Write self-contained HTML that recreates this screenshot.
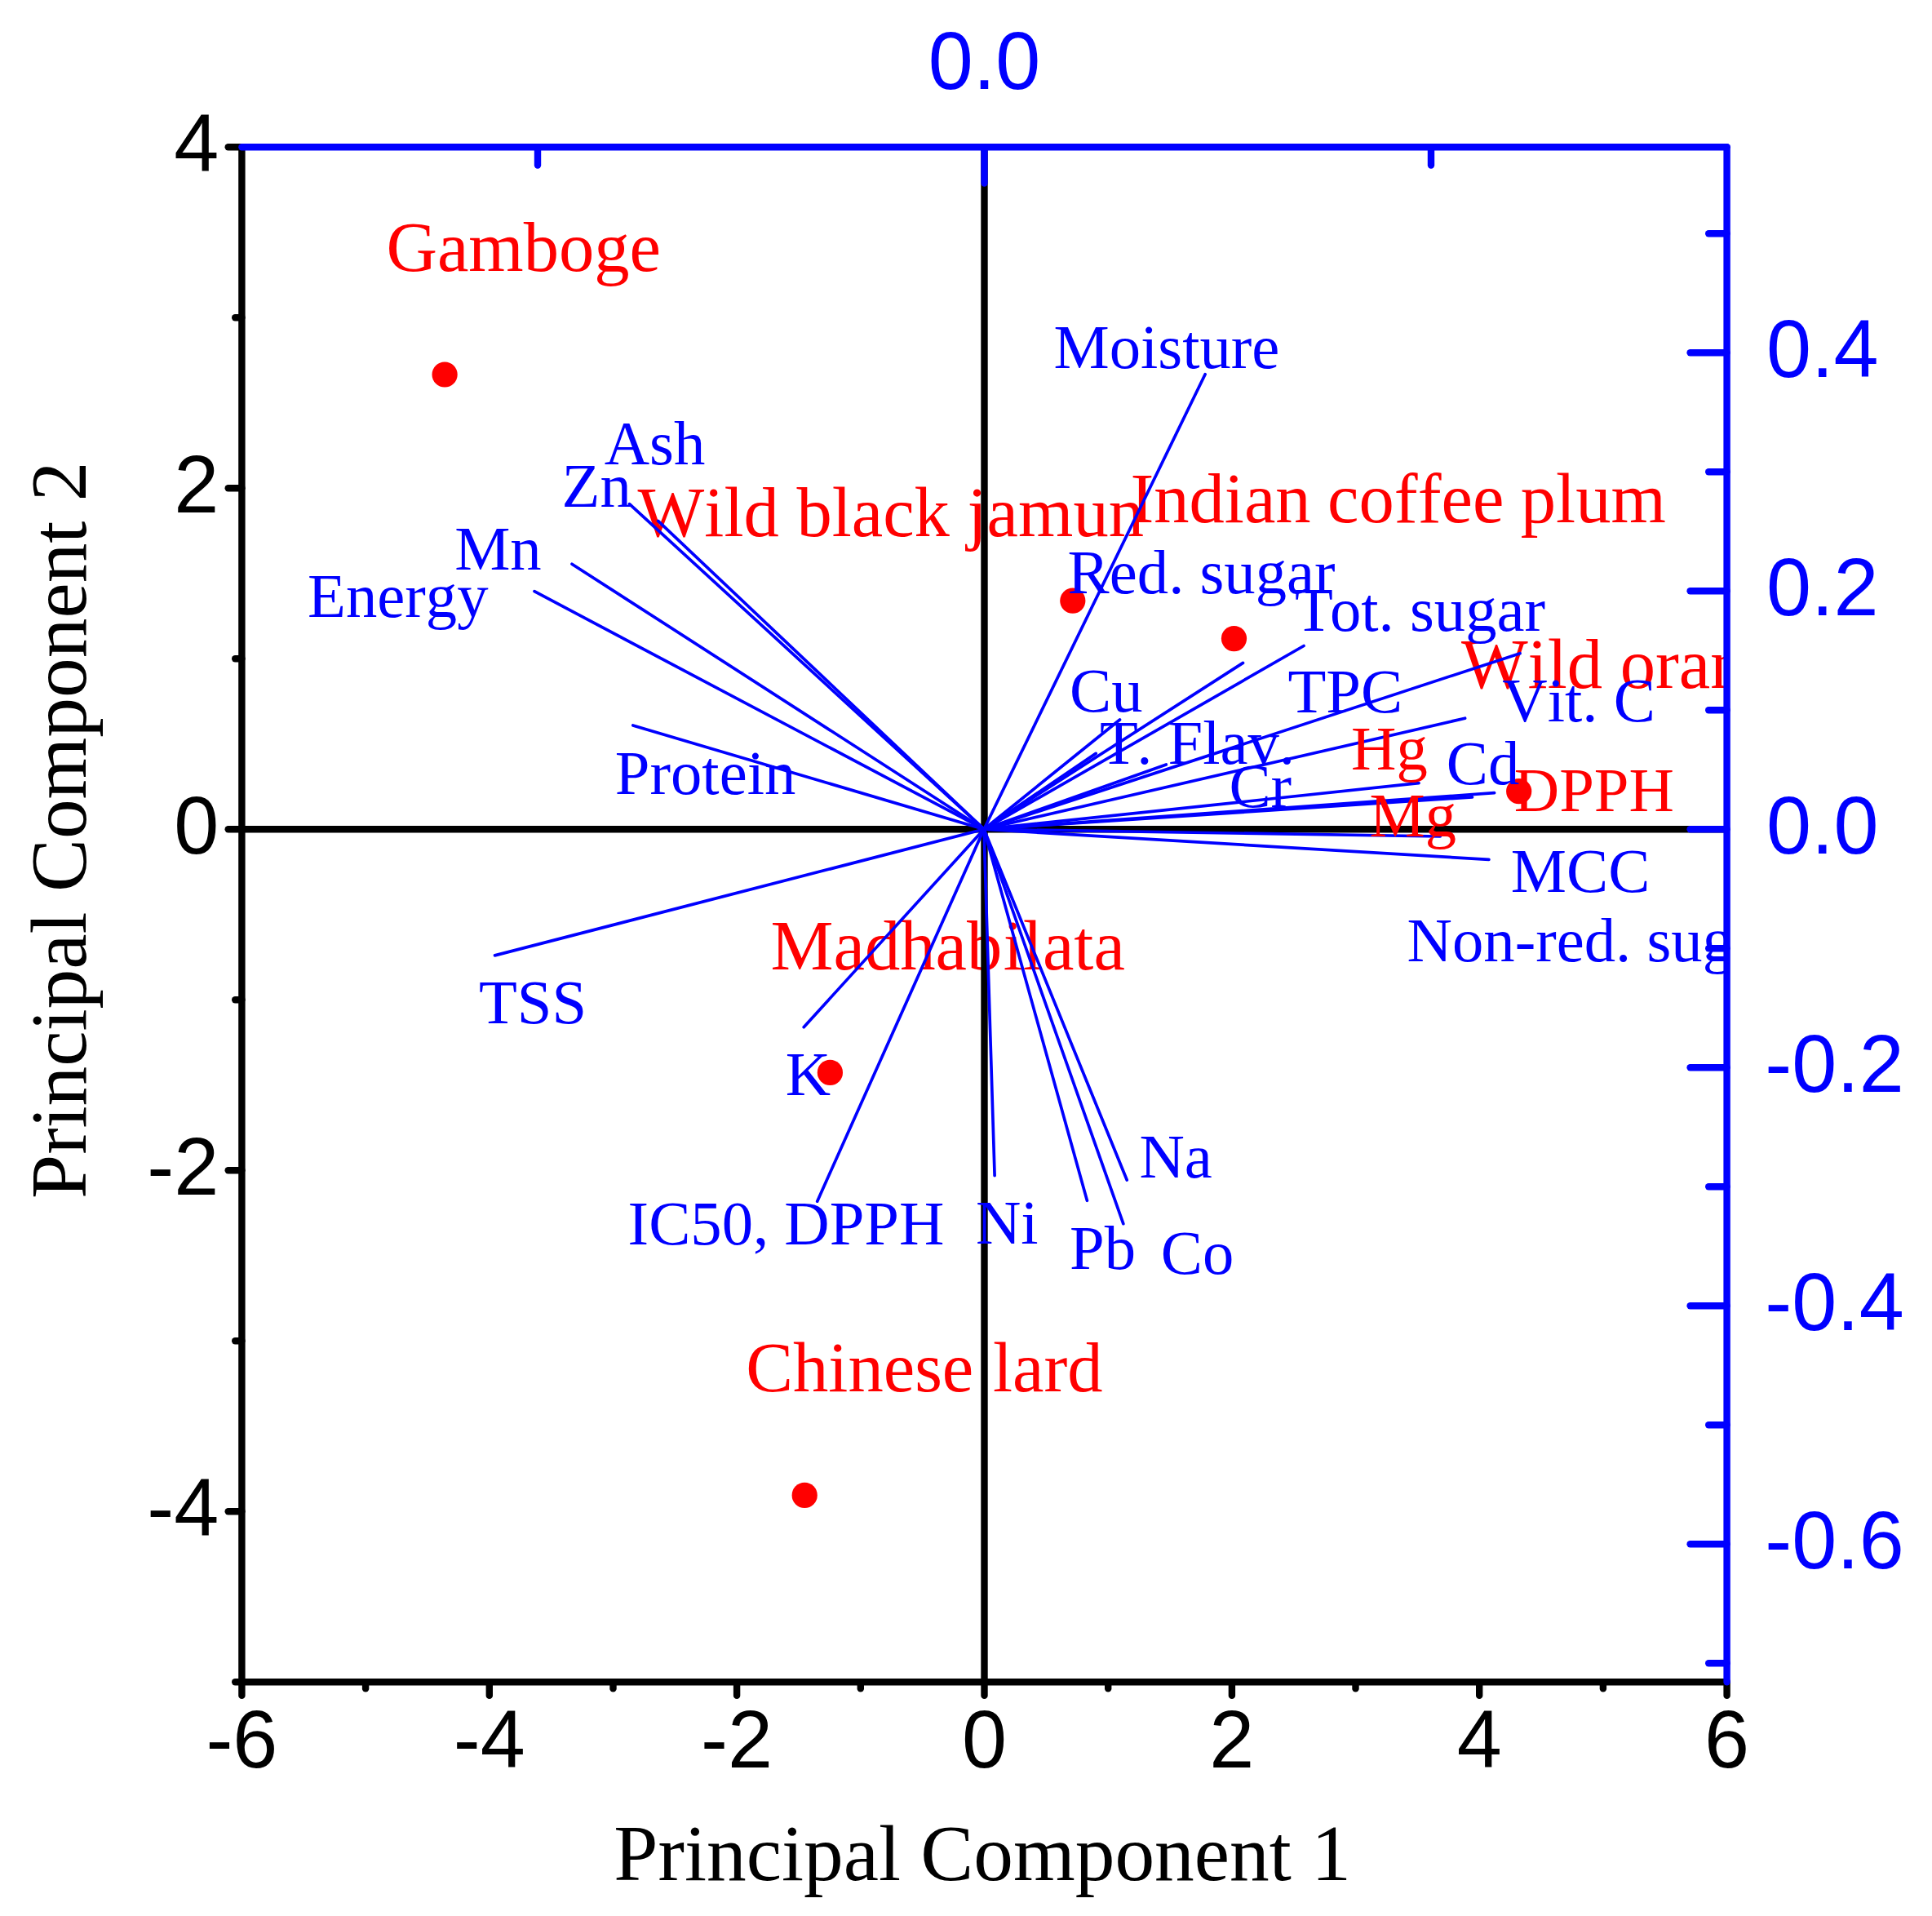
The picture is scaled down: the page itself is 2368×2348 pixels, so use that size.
<!DOCTYPE html>
<html lang="en"><head><meta charset="utf-8"><title>PCA biplot</title>
<style>html,body{margin:0;padding:0;background:#fff}svg{display:block;font-kerning:none}.s{font-family:"Liberation Serif","Times New Roman",serif}.a{font-family:"Liberation Sans",Arial,sans-serif}</style></head><body>
<svg width="2368" height="2348" viewBox="0 0 2368 2348">
<rect width="2368" height="2348" fill="#fff"/>
<defs><clipPath id="c"><rect x="296.4" y="180.2" width="1820.2" height="1881.0"/></clipPath></defs>
<g class="s" clip-path="url(#c)">
<g fill="#ff0000">
<circle cx="545.1" cy="459" r="15.6"/>
<circle cx="1314.8" cy="736.2" r="15.6"/>
<circle cx="1512.5" cy="782.6" r="15.6"/>
<circle cx="1861.7" cy="969.7" r="15.6"/>
<circle cx="1017.4" cy="1314.4" r="15.6"/>
<circle cx="986.2" cy="1832.4" r="15.6"/>
</g>
<text x="473.4" y="332.3" fill="#ff0000" font-size="86.6">Gamboge</text>
<text x="781.6" y="656.5" fill="#ff0000" font-size="86.6">Wild black jamun</text>
<text x="1385.4" y="640.0" fill="#ff0000" font-size="86.6">Indian <tspan dx="-1.2">coffee <tspan dx="-1.2">plum</tspan></tspan></text>
<text x="1790.9" y="842.5" fill="#ff0000" font-size="86.6">Wild orange</text>
<text x="944.5" y="1187.6" fill="#ff0000" font-size="86.6">Madhab<tspan dx="1.5">ilata</tspan></text>
<text x="914.3" y="1705.2" fill="#ff0000" font-size="86.6">Chinese <tspan dx="2.0">lard</tspan></text>
</g>
<g id="zero">
<line x1="296.4" y1="1016.2" x2="2116.6" y2="1016.2" stroke="#000000" stroke-width="8.4" stroke-linecap="butt"/>
<line x1="1206.5" y1="180.2" x2="1206.5" y2="2061.2" stroke="#000000" stroke-width="8.4" stroke-linecap="butt"/>
</g>
<g class="s" clip-path="url(#c)">
<g stroke="#0000ff" stroke-width="3.7" stroke-linecap="round">
<line x1="1206.0" y1="1016.2" x2="771.5" y2="617.6"/>
<line x1="1206.0" y1="1016.2" x2="806.6" y2="638.4"/>
<line x1="1206.0" y1="1016.2" x2="701.0" y2="691.2"/>
<line x1="1206.0" y1="1016.2" x2="655.0" y2="724.7"/>
<line x1="1206.0" y1="1016.2" x2="775.8" y2="888.9"/>
<line x1="1206.0" y1="1016.2" x2="606.5" y2="1170.9"/>
<line x1="1206.0" y1="1016.2" x2="985.2" y2="1258.7"/>
<line x1="1206.0" y1="1016.2" x2="1001.7" y2="1472.2"/>
<line x1="1206.0" y1="1016.2" x2="1477.1" y2="458.7"/>
<line x1="1206.0" y1="1016.2" x2="1372.5" y2="882.0"/>
<line x1="1206.0" y1="1016.2" x2="1523.5" y2="812.4"/>
<line x1="1206.0" y1="1016.2" x2="1598.0" y2="791.5"/>
<line x1="1206.0" y1="1016.2" x2="1343.2" y2="923.4"/>
<line x1="1206.0" y1="1016.2" x2="1429.3" y2="937.0"/>
<line x1="1206.0" y1="1016.2" x2="1863.0" y2="800.7"/>
<line x1="1206.0" y1="1016.2" x2="1795.6" y2="880.2"/>
<line x1="1206.0" y1="1016.2" x2="1739.0" y2="959.7"/>
<line x1="1206.0" y1="1016.2" x2="1831.6" y2="971.7"/>
<line x1="1206.0" y1="1016.2" x2="1804.5" y2="976.8"/>
<line x1="1206.0" y1="1016.2" x2="1765.2" y2="1025.0"/>
<line x1="1206.0" y1="1016.2" x2="1824.9" y2="1053.4"/>
<line x1="1206.0" y1="1016.2" x2="1219.1" y2="1440.6"/>
<line x1="1206.0" y1="1016.2" x2="1332.4" y2="1471.3"/>
<line x1="1206.0" y1="1016.2" x2="1376.8" y2="1499.7"/>
<line x1="1206.0" y1="1016.2" x2="1381.2" y2="1446.0"/>
</g>
<text x="740.7" y="569.1" fill="#0000ff" font-size="76.7">Ash</text>
<text x="688.6" y="621.2" fill="#0000ff" font-size="76.7">Zn</text>
<text x="557.2" y="698.3" fill="#0000ff" font-size="76.7">Mn</text>
<text x="377.1" y="756.4" fill="#0000ff" font-size="76.7">Energy</text>
<text x="753.8" y="972.8" fill="#0000ff" font-size="76.7">Protein</text>
<text x="1291.5" y="451.2" fill="#0000ff" font-size="76.7">Moisture</text>
<text x="1308.6" y="727.2" fill="#0000ff" font-size="76.7">Red. sugar</text>
<text x="1587.1" y="772.8" fill="#0000ff" font-size="76.7">T<tspan dx="-4.0">ot. sugar</tspan></text>
<text x="1311.0" y="871.5" fill="#0000ff" font-size="76.7">Cu</text>
<text x="1578.4" y="873.0" fill="#0000ff" font-size="76.7">TPC</text>
<text x="1347.9" y="935.5" fill="#0000ff" font-size="76.7">T<tspan dx="-1.6">. Flav.</tspan></text>
<text x="1506.4" y="989.3" fill="#0000ff" font-size="76.7">Cr</text>
<text x="1851.8" y="1092.8" fill="#0000ff" font-size="76.7">MCC</text>
<text x="1724.6" y="1178.3" fill="#0000ff" font-size="76.7">Non-red. sugar</text>
<text x="586.9" y="1254.3" fill="#0000ff" font-size="76.7">TSS</text>
<text x="962.7" y="1342.0" fill="#0000ff" font-size="76.7">K</text>
<text x="769.6" y="1524.8" fill="#0000ff" font-size="76.7">IC50, DPPH</text>
<text x="1195.9" y="1523.5" fill="#0000ff" font-size="76.7">Ni</text>
<text x="1396.4" y="1443.0" fill="#0000ff" font-size="76.7">Na</text>
<text x="1311.0" y="1554.6" fill="#0000ff" font-size="76.7">Pb</text>
<text x="1422.8" y="1561.0" fill="#0000ff" font-size="76.7">Co</text>
<text x="1841.3" y="884.4" fill="#0000ff" font-size="76.7">Vit. C</text>
<text x="1772.8" y="961.0" fill="#0000ff" font-size="76.7">Cd</text>
<text x="1656.1" y="942.8" fill="#ff0000" font-size="76.7">Hg</text>
<text x="1678.6" y="1024.6" fill="#ff0000" font-size="76.7">Mg</text>
<text x="1855.8" y="994.3" fill="#ff0000" font-size="76.7">DPPH</text>
</g>
<g id="black">
<line x1="296.4" y1="180.2" x2="296.4" y2="2061.2" stroke="#000000" stroke-width="8.4" stroke-linecap="round"/>
<line x1="296.4" y1="2061.2" x2="2116.6" y2="2061.2" stroke="#000000" stroke-width="8.4" stroke-linecap="round"/>
<line x1="296.4" y1="2061.2" x2="288.2" y2="2061.2" stroke="#000000" stroke-width="8.4" stroke-linecap="round"/>
<line x1="296.4" y1="1852.2" x2="279.7" y2="1852.2" stroke="#000000" stroke-width="8.4" stroke-linecap="round"/>
<line x1="296.4" y1="1643.2" x2="288.2" y2="1643.2" stroke="#000000" stroke-width="8.4" stroke-linecap="round"/>
<line x1="296.4" y1="1434.2" x2="279.7" y2="1434.2" stroke="#000000" stroke-width="8.4" stroke-linecap="round"/>
<line x1="296.4" y1="1225.2" x2="288.2" y2="1225.2" stroke="#000000" stroke-width="8.4" stroke-linecap="round"/>
<line x1="296.4" y1="1016.2" x2="279.7" y2="1016.2" stroke="#000000" stroke-width="8.4" stroke-linecap="round"/>
<line x1="296.4" y1="807.2" x2="288.2" y2="807.2" stroke="#000000" stroke-width="8.4" stroke-linecap="round"/>
<line x1="296.4" y1="598.2" x2="279.7" y2="598.2" stroke="#000000" stroke-width="8.4" stroke-linecap="round"/>
<line x1="296.4" y1="389.2" x2="288.2" y2="389.2" stroke="#000000" stroke-width="8.4" stroke-linecap="round"/>
<line x1="296.4" y1="180.2" x2="279.7" y2="180.2" stroke="#000000" stroke-width="8.4" stroke-linecap="round"/>
<line x1="296.4" y1="2061.2" x2="296.4" y2="2077.9" stroke="#000000" stroke-width="8.4" stroke-linecap="round"/>
<line x1="448.1" y1="2061.2" x2="448.1" y2="2069.4" stroke="#000000" stroke-width="8.4" stroke-linecap="round"/>
<line x1="599.8" y1="2061.2" x2="599.8" y2="2077.9" stroke="#000000" stroke-width="8.4" stroke-linecap="round"/>
<line x1="751.5" y1="2061.2" x2="751.5" y2="2069.4" stroke="#000000" stroke-width="8.4" stroke-linecap="round"/>
<line x1="903.1" y1="2061.2" x2="903.1" y2="2077.9" stroke="#000000" stroke-width="8.4" stroke-linecap="round"/>
<line x1="1054.8" y1="2061.2" x2="1054.8" y2="2069.4" stroke="#000000" stroke-width="8.4" stroke-linecap="round"/>
<line x1="1206.5" y1="2061.2" x2="1206.5" y2="2077.9" stroke="#000000" stroke-width="8.4" stroke-linecap="round"/>
<line x1="1358.2" y1="2061.2" x2="1358.2" y2="2069.4" stroke="#000000" stroke-width="8.4" stroke-linecap="round"/>
<line x1="1509.9" y1="2061.2" x2="1509.9" y2="2077.9" stroke="#000000" stroke-width="8.4" stroke-linecap="round"/>
<line x1="1661.5" y1="2061.2" x2="1661.5" y2="2069.4" stroke="#000000" stroke-width="8.4" stroke-linecap="round"/>
<line x1="1813.2" y1="2061.2" x2="1813.2" y2="2077.9" stroke="#000000" stroke-width="8.4" stroke-linecap="round"/>
<line x1="1964.9" y1="2061.2" x2="1964.9" y2="2069.4" stroke="#000000" stroke-width="8.4" stroke-linecap="round"/>
<line x1="2116.6" y1="2061.2" x2="2116.6" y2="2077.9" stroke="#000000" stroke-width="8.4" stroke-linecap="round"/>
</g>
<g class="a" font-size="99">
<text transform="translate(268.3,1881.8) scale(1,1.015)" text-anchor="end" fill="#000000">-4</text>
<text transform="translate(268.3,1463.8) scale(1,1.015)" text-anchor="end" fill="#000000">-2</text>
<text transform="translate(268.3,1045.8) scale(1,1.015)" text-anchor="end" fill="#000000">0</text>
<text transform="translate(268.3,627.8) scale(1,1.015)" text-anchor="end" fill="#000000">2</text>
<text transform="translate(268.3,209.8) scale(1,1.015)" text-anchor="end" fill="#000000">4</text>
<text transform="translate(296.4,2166.3) scale(1,1.015)" text-anchor="middle" fill="#000000">-6</text>
<text transform="translate(599.8,2166.3) scale(1,1.015)" text-anchor="middle" fill="#000000">-4</text>
<text transform="translate(903.1,2166.3) scale(1,1.015)" text-anchor="middle" fill="#000000">-2</text>
<text transform="translate(1206.5,2166.3) scale(1,1.015)" text-anchor="middle" fill="#000000">0</text>
<text transform="translate(1509.9,2166.3) scale(1,1.015)" text-anchor="middle" fill="#000000">2</text>
<text transform="translate(1813.2,2166.3) scale(1,1.015)" text-anchor="middle" fill="#000000">4</text>
<text transform="translate(2116.6,2166.3) scale(1,1.015)" text-anchor="middle" fill="#000000">6</text>
</g>
<g class="s" font-size="97.4" fill="#000000">
<text x="1204.1" y="2304" text-anchor="middle">Principal Component 1</text>
<text transform="translate(105.2,1017.3) rotate(-90)" text-anchor="middle">Principal Component 2</text>
</g>
<g id="blue">
<line x1="296.4" y1="180.2" x2="2116.6" y2="180.2" stroke="#0000ff" stroke-width="8.4" stroke-linecap="round"/>
<line x1="2116.6" y1="180.2" x2="2116.6" y2="2061.2" stroke="#0000ff" stroke-width="8.4" stroke-linecap="round"/>
<line x1="2116.6" y1="2038.2" x2="2094.2" y2="2038.2" stroke="#0000ff" stroke-width="8.4" stroke-linecap="round"/>
<line x1="2116.6" y1="1892.2" x2="2071.6" y2="1892.2" stroke="#0000ff" stroke-width="8.4" stroke-linecap="round"/>
<line x1="2116.6" y1="1746.2" x2="2094.2" y2="1746.2" stroke="#0000ff" stroke-width="8.4" stroke-linecap="round"/>
<line x1="2116.6" y1="1600.2" x2="2071.6" y2="1600.2" stroke="#0000ff" stroke-width="8.4" stroke-linecap="round"/>
<line x1="2116.6" y1="1454.2" x2="2094.2" y2="1454.2" stroke="#0000ff" stroke-width="8.4" stroke-linecap="round"/>
<line x1="2116.6" y1="1308.2" x2="2071.6" y2="1308.2" stroke="#0000ff" stroke-width="8.4" stroke-linecap="round"/>
<line x1="2116.6" y1="1162.2" x2="2094.2" y2="1162.2" stroke="#0000ff" stroke-width="8.4" stroke-linecap="round"/>
<line x1="2116.6" y1="1016.2" x2="2071.6" y2="1016.2" stroke="#0000ff" stroke-width="8.4" stroke-linecap="round"/>
<line x1="2116.6" y1="870.2" x2="2094.2" y2="870.2" stroke="#0000ff" stroke-width="8.4" stroke-linecap="round"/>
<line x1="2116.6" y1="724.2" x2="2071.6" y2="724.2" stroke="#0000ff" stroke-width="8.4" stroke-linecap="round"/>
<line x1="2116.6" y1="578.2" x2="2094.2" y2="578.2" stroke="#0000ff" stroke-width="8.4" stroke-linecap="round"/>
<line x1="2116.6" y1="432.2" x2="2071.6" y2="432.2" stroke="#0000ff" stroke-width="8.4" stroke-linecap="round"/>
<line x1="2116.6" y1="286.2" x2="2094.2" y2="286.2" stroke="#0000ff" stroke-width="8.4" stroke-linecap="round"/>
<line x1="659.0" y1="180.2" x2="659.0" y2="202.6" stroke="#0000ff" stroke-width="8.4" stroke-linecap="round"/>
<line x1="1206.5" y1="180.2" x2="1206.5" y2="224.6" stroke="#0000ff" stroke-width="8.4" stroke-linecap="round"/>
<line x1="1754.0" y1="180.2" x2="1754.0" y2="202.6" stroke="#0000ff" stroke-width="8.4" stroke-linecap="round"/>
</g>
<g class="a" font-size="99">
<text transform="translate(2163.2,1922.0) scale(1,1.015)" text-anchor="start" fill="#0000ff">-0.6</text>
<text transform="translate(2163.2,1630.0) scale(1,1.015)" text-anchor="start" fill="#0000ff">-0.4</text>
<text transform="translate(2163.2,1338.0) scale(1,1.015)" text-anchor="start" fill="#0000ff">-0.2</text>
<text transform="translate(2164.9,1046.0) scale(1,1.015)" text-anchor="start" fill="#0000ff">0.0</text>
<text transform="translate(2164.9,754.0) scale(1,1.015)" text-anchor="start" fill="#0000ff">0.2</text>
<text transform="translate(2164.9,462.0) scale(1,1.015)" text-anchor="start" fill="#0000ff">0.4</text>
<text transform="translate(1206.5,109.0) scale(1,1.015)" text-anchor="middle" fill="#0000ff">0.0</text>
</g>
</svg></body></html>
